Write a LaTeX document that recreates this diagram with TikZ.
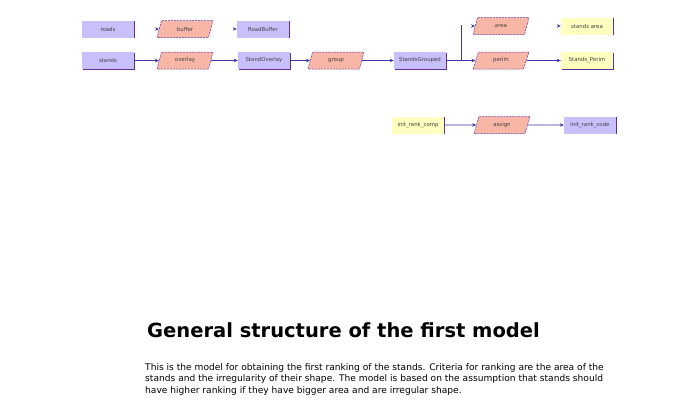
\documentclass[tikz,border=0pt]{standalone}
\usepackage{fontspec}
\setmainfont{DejaVu Sans}
\usetikzlibrary{shapes.geometric,shadows,arrows.meta}
\definecolor{datafill}{RGB}{200,192,250}
\definecolor{toolfill}{RGB}{248,182,166}
\definecolor{outfill}{RGB}{255,255,192}
\definecolor{edgecol}{RGB}{96,48,150}
\definecolor{flowcol}{RGB}{56,56,168}
\tikzset{
  every node/.style={font=\fontsize{5.4}{6}\selectfont,text=black!75},
  dataset/.style={fill=datafill,minimum width=52pt,minimum height=17pt,inner sep=0pt,
    general shadow={shadow xshift=0.9pt,shadow yshift=-0.6pt,fill=edgecol}},
  output/.style={dataset,fill=outfill},
  tool/.style={trapezium,trapezium left angle=70,trapezium right angle=110,trapezium stretches=true,
    fill=toolfill,draw=edgecol,dash pattern=on 2pt off 1pt,line width=0.5pt,minimum width=56pt,minimum height=17pt,inner sep=0pt},
  flow/.style={-{Stealth[length=4pt,width=3.5pt]},draw=flowcol,line width=0.6pt}
}
\begin{document}
\begin{tikzpicture}[x=1pt,y=-1pt]
\useasboundingbox (0,0) rectangle (700,416);
% first row
\node [dataset,name=roads] at (108,29){roads};
\node [tool,name=buffer] at (185,29){buffer};
\node [dataset,name=roadbuf] at (263,29){RoadBuffer};
% second row
\node [dataset,name=stands] at (108,60.5){stands};
\node [tool,name=overlay] at (185,60.5){overlay};
\node [dataset,name=standover] at (264,60.5){StandOverlay};
\node [tool,name=group] at (336,60.5){group};
\node [dataset,name=grouped] at (420,60.5){StandsGrouped};
\node [tool,name=perim] at (501,60.5){perim};
\node [output,name=standperim] at (587,60.5){Stands\_Perim};
\node [tool,name=area] at (501,26){area};
\node [output,name=standarea] at (587,26){stands area};
% third row
\node [output,name=rankcomp] at (418,125){init\_rank\_comp};
\node [tool,name=assign] at (502,125){assign};
\node [dataset,name=rankcode] at (590,125){init\_rank\_code};
% connectors
\coordinate (split) at (461,60.5);
\coordinate (splittop) at (461,25);
\draw[flow] (stands)--(overlay);
\draw[flow] (overlay)--(standover);
\draw[flow] (standover)--(group);
\draw[flow] (group)--(grouped);
\draw[flow] (grouped)--(perim);
\draw[flow] (perim)--(standperim);
\draw[flowcol,line width=0.6pt] (split)--(splittop);
\draw[flow] (rankcomp)--(assign);
\draw[flow] (assign)--(rankcode);
% loose arrow tips
\draw[flow] ([xshift=-3pt]buffer.west)--(buffer.west);
\draw[flow] ([xshift=-3pt]roadbuf.west)--(roadbuf.west);
\draw[flow] ([xshift=-3pt]area.west)--(area.west);
\draw[flow] ([xshift=-3pt]standarea.west)--(standarea.west);
% caption
\node [name=title,font=\fontsize{19.5}{21}\selectfont\bfseries,text=black] at (343.5,330){General structure of the first model};
\node [name=descr,anchor=north west,align=left,inner sep=0pt,text=black,font=\fontsize{9.1}{11.5}\selectfont] at (145,363){This is the model for obtaining the first ranking of the stands. Criteria for ranking are the area of the\\stands and the irregularity of their shape. The model is based on the assumption that stands should\\have higher ranking if they have bigger area and are irregular shape.};
\end{tikzpicture}
\end{document}
